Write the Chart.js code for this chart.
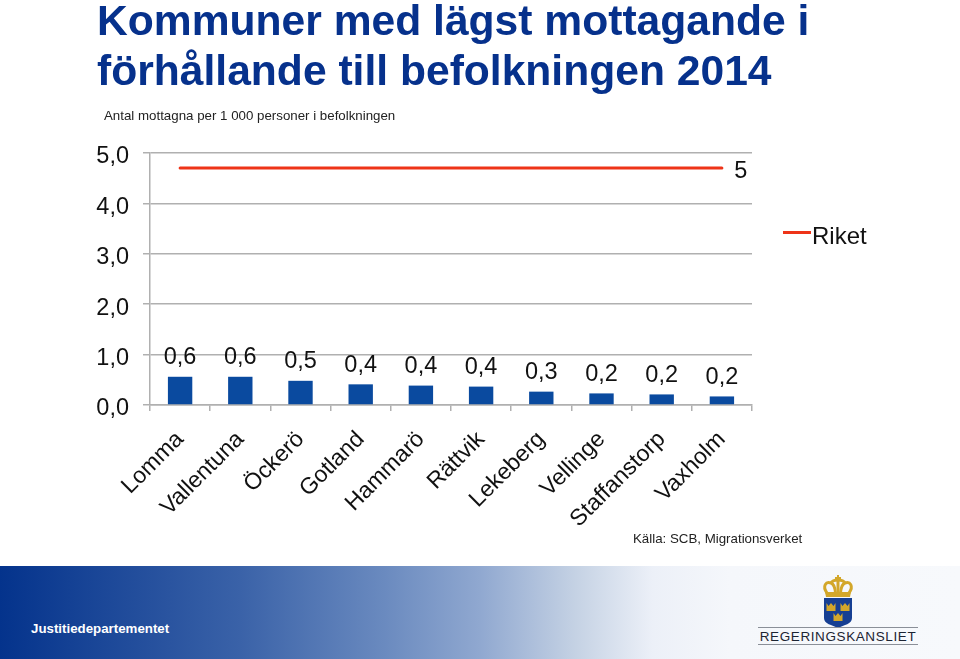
<!DOCTYPE html>
<html lang="sv">
<head>
<meta charset="UTF-8">
<title>Kommuner med lägst mottagande</title>
<script src="https://cdn.jsdelivr.net/npm/chart.js"></script>
<style>
    html, body { margin: 0; padding: 0; background: #fff; }
    body { width: 960px; height: 659px; position: relative; overflow: hidden; font-family: "Liberation Sans", Arial, sans-serif; }
    #chartBox { position: absolute; left: 0; top: 0; width: 960px; height: 560px; }
    h1 { position: absolute; left: 97px; top: -5px; margin: 0; font-size: 42.6px; line-height: 50px; font-weight: bold; color: #06318c; white-space: nowrap; }
    .small { position: absolute; font-size: 13.3px; color: #222; white-space: nowrap; }
    #legend { position: absolute; left: 783px; top: 222px; font-size: 24px; line-height: 28px; color: #111; }
    #legend i { position: absolute; left: 0; top: 9px; width: 28px; height: 3px; background: #ee3418; }
    #legend span { margin-left: 29px; }
    #footer { position: absolute; left: 0; top: 566px; width: 960px; height: 93px; background: linear-gradient(to right, #04338c 0%, #3a62a8 25%, #6a8abf 40%, #90a8d0 50%, #c5d2e4 60%, #ecf0f8 68%, #f5f7fb 76%, #f7f9fc 100%); }
    #dept { position: absolute; left: 31px; top: 54px; font-size: 13.3px; line-height: 17px; font-weight: bold; color: #fff; }
    #logo { position: absolute; left: 750px; top: 0; }
</style>
</head>
<body>
<div id="chartBox"><canvas id="chart"></canvas></div>
<h1>Kommuner med lägst mottagande i<br>förhållande till befolkningen 2014</h1>
<div class="small" style="left:104px;top:108px">Antal mottagna per 1 000 personer i befolkningen</div>
<div id="legend"><i></i><span>Riket</span></div>
<div class="small" style="left:633px;top:531px">Källa: SCB, Migrationsverket</div>
<div id="footer">
    <div id="dept">Justitiedepartementet</div>
    <svg id="logo" width="180" height="93" viewBox="0 0 180 93">
        <g fill="none" stroke="#d3a72a" stroke-width="3">
            <path d="M77 27 C72 20 76 15 81 17 C84 18 85 21 85.5 27"/>
            <path d="M99 27 C104 20 100 15 95 17 C92 18 91 21 90.5 27"/>
            <path d="M88 15 V27"/>
            <path d="M81 17 C83 13 93 13 95 17"/>
        </g>
        <path d="M75 26 H101 L100 31 H76 Z" fill="#d3a72a"/>
        <path d="M87 9 h2 v2 h2 v2 h-2 v2 h-2 v-2 h-2 v-2 h2 Z" fill="#d3a72a"/>
        <path d="M74 32 H102 V52 C102 58 94 59 88 62 C82 59 74 58 74 52 Z" fill="#163f93"/>
        <path d="M76.5 37 l2 3 2.5-3 2.5 3 2-3 v8 h-9 Z M90.5 37 l2 3 2.5-3 2.5 3 2-3 v8 h-9 Z M83.5 47 l2 3 2.5-3 2.5 3 2-3 v8 h-9 Z" fill="#d3a72a"/>
        <rect x="8" y="61" width="160" height="1" fill="#8a8f98"/>
        <rect x="8" y="78" width="160" height="1" fill="#8a8f98"/>
        <text x="88" y="75" text-anchor="middle" font-family="Liberation Sans" font-size="13.5" letter-spacing="0.6" fill="#1c2433">REGERINGSKANSLIET</text>
    </svg>
</div>

<script>
    const categories = ['Lomma', 'Vallentuna', 'Öckerö', 'Gotland', 'Hammarö', 'Rättvik', 'Lekeberg', 'Vellinge', 'Staffanstorp', 'Vaxholm'];
    const mottagna = [0.56, 0.56, 0.48, 0.41, 0.385, 0.365, 0.265, 0.23, 0.21, 0.17];
    const riket = [4.7, 4.7, 4.7, 4.7, 4.7, 4.7, 4.7, 4.7, 4.7, 4.7];

    // Värdeetiketter över staplarna och "5" efter linjen
    const valueLabels = {
        id: 'valueLabels',
        afterDatasetsDraw(chart) {
            const ctx = chart.ctx;
            ctx.save();
            ctx.font = '23.5px "Liberation Sans"';
            ctx.fillStyle = '#111';
            ctx.textAlign = 'center';
            ctx.textBaseline = 'middle';
            chart.getDatasetMeta(1).data.forEach((bar, i) => {
                ctx.fillText(mottagna[i].toFixed(1).replace('.', ','), bar.x, bar.y - 19);
            });
            const points = chart.getDatasetMeta(0).data;
            const last = points[points.length - 1];
            ctx.fillText(riket[riket.length - 1].toFixed(0), last.x + 19, last.y + 3);
            ctx.restore();
        }
    };

    new Chart(document.getElementById('chart'), {
        data: {
            labels: categories,
            datasets: [
                {
                    type: 'line',
                    label: 'Riket',
                    data: riket,
                    borderColor: '#ee3418',
                    borderWidth: 3,
                    pointRadius: 0,
                    borderCapStyle: 'round'
                },
                {
                    type: 'bar',
                    label: 'Kommuner',
                    data: mottagna,
                    backgroundColor: '#0a4a9f',
                    barPercentage: 0.405,
                    categoryPercentage: 1
                }
            ]
        },
        options: {
            responsive: true,
            maintainAspectRatio: false,
            animation: false,
            layout: { padding: { left: 0, top: 153, right: 208, bottom: 0 } },
            plugins: { legend: { display: false }, tooltip: { enabled: false } },
            scales: {
                x: {
                    afterFit(axis) { axis.height = 155; },
                    border: { color: '#b0b0b0', width: 1.5 },
                    grid: { drawOnChartArea: false, color: '#b0b0b0', lineWidth: 1.5, tickLength: 6 },
                    ticks: {
                        color: '#111',
                        font: { family: 'Liberation Sans', size: 23 },
                        minRotation: 45,
                        maxRotation: 45,
                        autoSkip: false,
                        padding: 15
                    }
                },
                y: {
                    min: 0,
                    max: 5,
                    afterFit(axis) { axis.width = 150; },
                    border: { color: '#b0b0b0', width: 1.5 },
                    grid: { color: '#b0b0b0', lineWidth: 1.5, tickLength: 7 },
                    ticks: {
                        stepSize: 1,
                        color: '#111',
                        padding: 14,
                        // tom första rad flyttar etiketten ca 4 px nedåt
                        font: { family: 'Liberation Sans', size: 23.5, lineHeight: '8px' },
                        callback: v => ['', v.toFixed(1).replace('.', ',')]
                    }
                }
            }
        },
        plugins: [valueLabels]
    });
</script>
</body>
</html>
